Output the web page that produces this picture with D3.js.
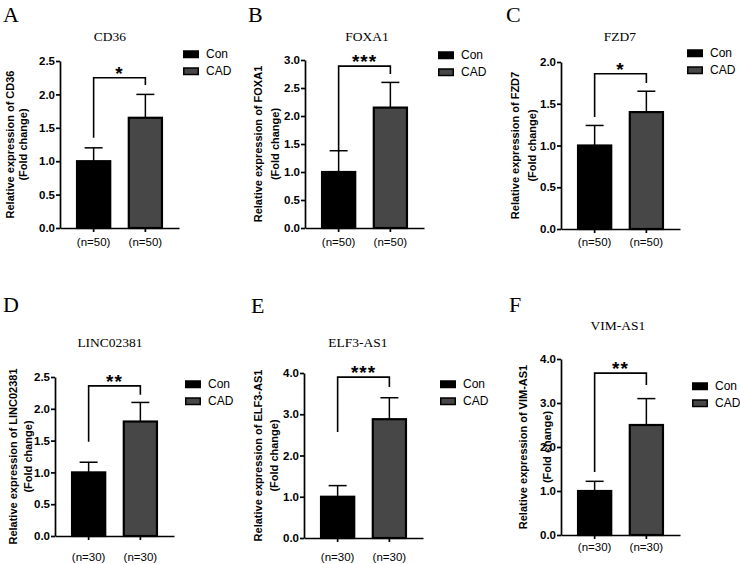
<!DOCTYPE html>
<html>
<head>
<meta charset="utf-8">
<script src="https://cdn.jsdelivr.net/npm/d3@7"></script>
<style>
  body { margin: 0; background: #fff; }
  svg { display: block; }
</style>
</head>
<body>
<div id="chart"></div>
<script>
// ---- data ----
const letters = ["A", "B", "C", "D", "E", "F"];
const genes = ["CD36", "FOXA1", "FZD7", "LINC02381", "ELF3-AS1", "VIM-AS1"];
const groups = ["Con", "CAD"];
const sampleLabels = ["(n=50)", "(n=50)", "(n=50)", "(n=30)", "(n=30)", "(n=30)"];
const conMeans = [1.0, 1.0, 1.0, 1.0, 1.0, 1.0];
const conErr = [0.2, 0.38, 0.24, 0.16, 0.27, 0.22];
const cadMeans = [1.65, 2.15, 1.4, 1.8, 2.88, 2.5];
const cadErr = [0.35, 0.45, 0.25, 0.3, 0.52, 0.6];
const yMax = [2.5, 3.0, 2.0, 2.5, 4.0, 4.0];
const yStep = [0.5, 0.5, 0.5, 0.5, 1.0, 1.0];
const stars = ["*", "***", "*", "**", "***", "**"];
// significance bracket: top, left leg end, right leg end (data units)
const bracketTop = [2.25, 2.89, 1.86, 2.36, 3.9, 3.68];
const bracketLeft = [1.35, 1.36, 1.34, 1.48, 2.57, 1.43];
const bracketRight = [2.14, 2.75, 1.75, 2.22, 3.66, 3.41];

// ---- layout (pixels) for each panel ----
const layout = [
  { x0: 60,  top: 61,  bottom: 228, letter: [3, 22],   title: [110, 41], ylab: [-50, -37], legend: [183, 54], xpad: 6 },
  { x0: 305, top: 60,  bottom: 228, letter: [248, 22], title: [367, 41], ylab: [-47, -30], legend: [438, 55], xpad: 6 },
  { x0: 561, top: 62,  bottom: 229, letter: [506, 22], title: [620, 41], ylab: [-46, -29], legend: [687, 53], xpad: 5 },
  { x0: 55,  top: 377, bottom: 536, letter: [3, 312],  title: [110, 347], ylab: [-42, -27], legend: [185, 384], xpad: 13 },
  { x0: 304, top: 373, bottom: 538, letter: [251, 313], title: [358, 347], ylab: [-46, -30], legend: [440, 384], xpad: 11 },
  { x0: 561, top: 359, bottom: 535, letter: [509, 312], title: [618, 330], ylab: [-38, -14], legend: [692, 386], xpad: 4 }
];

const W = 740, H = 564;
const plotW = 119;
const fills = { Con: "#000000", CAD: "#474747" };
const SANS = "Arial, 'Liberation Sans', Helvetica, sans-serif";
const SERIF = "'Times New Roman', 'Liberation Serif', serif";

const svg = d3.select("#chart").append("svg")
  .attr("width", W).attr("height", H)
  .attr("viewBox", `0 0 ${W} ${H}`);

genes.forEach((gene, i) => {
  const L = layout[i];
  const g = svg.append("g");

  const x = d3.scaleBand().domain(groups)
    .range([L.x0, L.x0 + plotW])
    .paddingInner(0.32).paddingOuter(0.31);
  const y = d3.scaleLinear().domain([0, yMax[i]]).range([L.bottom, L.top]);

  const means = [conMeans[i], cadMeans[i]];
  const errs = [conErr[i], cadErr[i]];
  const rows = groups.map((k, j) => ({ key: k, mean: means[j], err: errs[j] }));

  // panel letter + title
  g.append("text")
    .attr("x", L.letter[0]).attr("y", L.letter[1])
    .attr("font-family", SERIF).attr("font-size", 22)
    .text(letters[i]);
  g.append("text")
    .attr("x", L.title[0]).attr("y", L.title[1])
    .attr("text-anchor", "middle")
    .attr("font-family", SERIF).attr("font-size", 13.5)
    .text(gene);

  // error bars (upper only)
  const eb = g.append("g").attr("stroke", "#000").attr("stroke-width", 1.5);
  eb.selectAll("line.v").data(rows).join("line")
    .attr("x1", d => x(d.key) + x.bandwidth() / 2)
    .attr("x2", d => x(d.key) + x.bandwidth() / 2)
    .attr("y1", d => y(d.mean))
    .attr("y2", d => y(d.mean + d.err));
  eb.selectAll("line.cap").data(rows).join("line")
    .attr("x1", d => x(d.key) + x.bandwidth() / 2 - 9)
    .attr("x2", d => x(d.key) + x.bandwidth() / 2 + 9)
    .attr("y1", d => y(d.mean + d.err))
    .attr("y2", d => y(d.mean + d.err));

  // bars
  g.selectAll("rect.bar").data(rows).join("rect")
    .attr("x", d => x(d.key) + 1)
    .attr("width", x.bandwidth() - 2)
    .attr("y", d => y(d.mean))
    .attr("height", d => y(0) - y(d.mean))
    .attr("fill", d => fills[d.key])
    .attr("stroke", "#000").attr("stroke-width", 2.2);

  // axes
  const yAxis = d3.axisLeft(y)
    .tickValues(d3.range(0, yMax[i] + 1e-9, yStep[i]))
    .tickFormat(d3.format(".1f"))
    .tickSize(4).tickSizeOuter(0).tickPadding(1);
  const ya = g.append("g").attr("transform", `translate(${L.x0},0)`).call(yAxis);
  ya.select(".domain").attr("stroke-width", 1.7);
  ya.selectAll(".tick line").attr("stroke-width", 1.7);
  ya.selectAll(".tick text")
    .attr("font-family", SANS).attr("font-size", 11.5)
    .attr("font-weight", "bold").attr("fill", "#000");

  const xAxis = d3.axisBottom(x)
    .tickFormat(() => sampleLabels[i])
    .tickSize(4).tickSizeOuter(0).tickPadding(L.xpad);
  const xa = g.append("g").attr("transform", `translate(0,${L.bottom})`).call(xAxis);
  xa.select(".domain").attr("stroke-width", 1.7);
  xa.selectAll(".tick line").attr("stroke-width", 1.7);
  xa.selectAll(".tick text")
    .attr("font-family", SANS).attr("font-size", 11.5).attr("fill", "#000");

  // y label (two lines)
  const cy = (L.top + L.bottom) / 2;
  [`Relative expression of ${gene}`, "(Fold change)"].forEach((t, k) => {
    g.append("text")
      .attr("transform", `translate(${L.x0 + L.ylab[k]},${cy}) rotate(-90)`)
      .attr("text-anchor", "middle")
      .attr("dominant-baseline", "central")
      .attr("font-family", SANS).attr("font-size", 11).attr("font-weight", "bold")
      .text(t);
  });

  // significance bracket
  const xl = x("Con") + x.bandwidth() / 2;
  const xr = x("CAD") + x.bandwidth() / 2;
  g.append("path")
    .attr("d", `M${xl},${y(bracketLeft[i])}V${y(bracketTop[i])}H${xr}V${y(bracketRight[i])}`)
    .attr("fill", "none").attr("stroke", "#000").attr("stroke-width", 1.6);
  g.append("text")
    .attr("x", (xl + xr) / 2).attr("y", y(bracketTop[i]) + 2)
    .attr("text-anchor", "middle")
    .attr("font-family", SANS).attr("font-size", 19).attr("font-weight", "bold")
    .attr("letter-spacing", 1)
    .text(stars[i]);

  // legend
  const lg = g.append("g").attr("transform", `translate(${L.legend[0]},${L.legend[1]})`);
  groups.forEach((k, j) => {
    lg.append("rect")
      .attr("x", 0.75).attr("y", j * 17 - 3)
      .attr("width", 14.5).attr("height", 6.5)
      .attr("fill", fills[k]).attr("stroke", "#000").attr("stroke-width", 1.5);
    lg.append("text")
      .attr("x", 23).attr("y", j * 17)
      .attr("dominant-baseline", "central")
      .attr("font-family", SANS).attr("font-size", 12)
      .text(k);
  });
});
</script>
</body>
</html>
